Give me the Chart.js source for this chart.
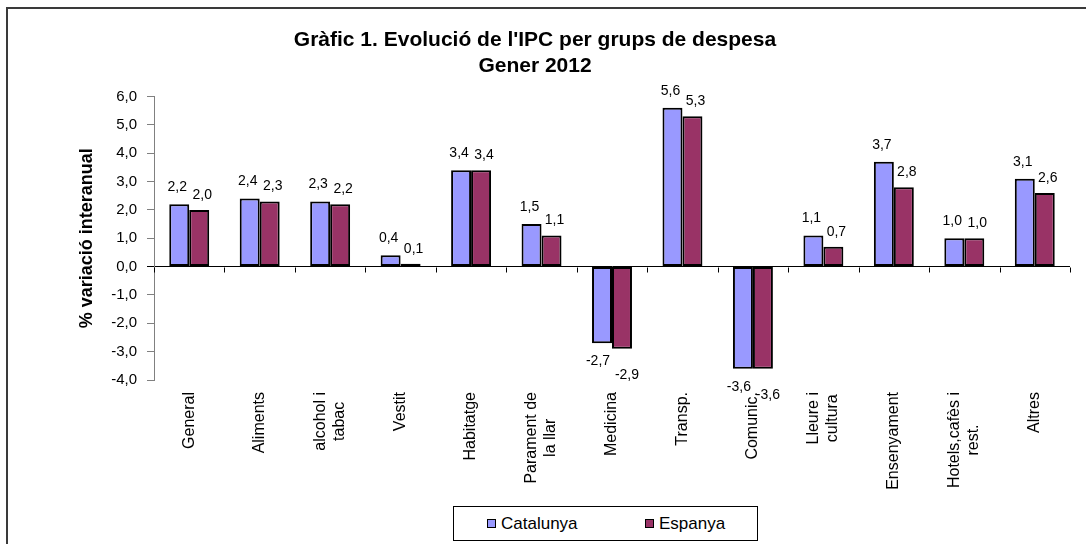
<!DOCTYPE html>
<html><head><meta charset="utf-8">
<script src="https://cdn.jsdelivr.net/npm/chart.js@4"></script>
<style>
html,body{margin:0;padding:0;overflow:hidden;background:#fff;width:1086px;height:544px}
#wrap{position:relative;width:1086px;height:544px;overflow:hidden}
#frame{position:absolute;left:6px;top:7px;width:1200px;height:700px;border:2px solid #3a3a3a;box-sizing:border-box}
#c{position:absolute;left:0;top:0}
#legend{position:absolute;left:453px;top:506px;width:305px;height:35px;border:1px solid #000;box-sizing:border-box;background:#fff;font:17px "Liberation Sans",Arial,sans-serif;color:#000}
.item{position:absolute;top:0;height:33px;display:flex;align-items:center;white-space:nowrap}
.sw{width:7px;height:7px;border:1.5px solid #000;margin-right:5px}
</style></head>
<body>
<div id="wrap">
<div id="frame"></div>
<canvas id="c" width="1086" height="544"></canvas>
<div id="legend"></div>
</div>
<script>
const categories = ['General','Aliments',['alcohol i','tabac'],'Vestit','Habitatge',['Parament de','la llar'],'Medicina','Transp.','Comunic.',['Lleure i','cultura'],'Ensenyament',['Hotels,cafès i','rest.'],'Altres'];
const catalunya = [2.2,2.4,2.3,0.4,3.4,1.5,-2.7,5.6,-3.6,1.1,3.7,1.0,3.1];
const espanya   = [2.0,2.3,2.2,0.1,3.4,1.1,-2.9,5.3,-3.6,0.7,2.8,1.0,2.6];
const seriesNames = ['Catalunya','Espanya'];
const seriesColors = ['#9999FF','#993366'];
const titleLines = ["Gràfic 1. Evolució de l'IPC per grups de despesa",'Gener 2012'];
const yTitle = '% variació interanual';
const yMin = -4, yMax = 6, yStep = 1;

const FONT = '"Liberation Sans", Arial, sans-serif';
const fmt = v => v.toFixed(1).replace('.', ',');
const LABEL_OFFSETS = [{px:-2,py:-17,nx:-4,ny:18},{px:3,py:-15,nx:5,ny:26}];

const valueLabels = {
  id:'valueLabels',
  afterDatasetsDraw(chart){
    const ctx = chart.ctx;
    ctx.save();
    ctx.font = '14px ' + FONT;
    ctx.fillStyle = '#000';
    ctx.textAlign = 'center';
    ctx.textBaseline = 'middle';
    chart.data.datasets.forEach((ds,i)=>{
      const meta = chart.getDatasetMeta(i);
      const off = LABEL_OFFSETS[i];
      meta.data.forEach((el,j)=>{
        const v = ds.data[j];
        const pos = v >= 0;
        ctx.fillText(fmt(v), el.x + (pos?off.px:off.nx), el.y + (pos?off.py:off.ny));
      });
    });
    ctx.restore();
  }
};

// tick marks of the category axis, drawn where it crosses zero
const zeroAxisTicks = {
  id:'zeroAxisTicks',
  afterDatasetsDraw(chart){
    const xs = chart.scales.x, ys = chart.scales.y;
    const n = chart.data.labels.length;
    const step = xs.getPixelForValue(1) - xs.getPixelForValue(0);
    const y0 = Math.round(ys.getPixelForValue(0)) + 0.5;
    const ctx = chart.ctx;
    ctx.save();
    ctx.strokeStyle = '#000';
    ctx.lineWidth = 1;
    ctx.beginPath();
    for (let i = 0; i <= n; i++) {
      const x = Math.round(xs.getPixelForValue(0) - step/2 + i*step) + 0.5;
      ctx.moveTo(x, y0);
      ctx.lineTo(x, y0 + 5);
    }
    ctx.stroke();
    ctx.restore();
  }
};

// category labels, rotated, lines centred on each other (as in the original)
const categoryLabels = {
  id:'categoryLabels',
  afterDraw(chart){
    const xs = chart.scales.x;
    const ctx = chart.ctx;
    const top = xs.top + 12;
    const lh = 19;
    ctx.save();
    ctx.font = '16px ' + FONT;
    ctx.fillStyle = '#000';
    ctx.textAlign = 'center';
    ctx.textBaseline = 'middle';
    chart.data.labels.forEach((lab, i)=>{
      const lines = Array.isArray(lab) ? lab : [lab];
      const maxW = Math.max(...lines.map(l => ctx.measureText(l).width));
      const x = xs.getPixelForValue(i);
      ctx.save();
      ctx.translate(x, top);
      ctx.rotate(-Math.PI/2);
      lines.forEach((l, k)=>{
        ctx.fillText(l, -maxW/2, (k - (lines.length-1)/2) * lh);
      });
      ctx.restore();
    });
    ctx.restore();
  }
};

const datasets = [catalunya, espanya].map((d,i)=>({
  label: seriesNames[i],
  data: d,
  backgroundColor: seriesColors[i],
  borderColor: '#000',
  borderWidth: 2,
  borderSkipped: false,
  categoryPercentage: 0.567,
  barPercentage: 1.0
}));

new Chart(document.getElementById('c'), {
  type: 'bar',
  data: { labels: categories, datasets },
  plugins: [valueLabels, zeroAxisTicks, categoryLabels],
  options: {
    responsive: false,
    animation: false,
    layout: { padding: { left: 0, right: 16, top: 0, bottom: 0 } },
    plugins: {
      legend: { display: false },
      tooltip: { enabled: false },
      title: {
        display: true,
        text: titleLines,
        color: '#000',
        font: { family: FONT, size: 21, weight: 'bold', lineHeight: 1.25 },
        padding: { top: 27, bottom: 17 }
      }
    },
    scales: {
      x: {
        type: 'category',
        position: 'bottom',
        offset: true,
        afterFit(scale){ scale.height = 164; },
        grid: { display: false, drawTicks: false },
        border: { display: false },
        ticks: { display: false, autoSkip: false, maxRotation: 90, minRotation: 90 }
      },
      y: {
        min: yMin, max: yMax,
        afterFit(scale){ scale.width = 154; },
        grid: { drawOnChartArea: true, drawTicks: true, tickLength: 7,
                color: c => (c.tick && c.tick.value === 0) ? '#000' : 'rgba(0,0,0,0)',
                tickColor: c => (c.tick && c.tick.value === 0) ? '#000' : '#808080' },
        border: { display: true, color: '#808080', width: 1 },
        ticks: { stepSize: yStep, padding: 10, color: '#000', font: { family: FONT, size: 15 }, callback: v => fmt(v) },
        title: { display: true, text: yTitle, color: '#000', font: { family: FONT, size: 18, weight: 'bold' }, padding: { top: 76, bottom: 0 } }
      }
    }
  }
});

const legend = document.getElementById('legend');
const legendLeft = [33, 191];
seriesNames.forEach((n,i)=>{
  const it = document.createElement('div');
  it.className = 'item';
  it.style.left = legendLeft[i] + 'px';
  const sw = document.createElement('span');
  sw.className = 'sw';
  sw.style.background = seriesColors[i];
  const tx = document.createElement('span');
  tx.textContent = n;
  it.appendChild(sw); it.appendChild(tx);
  legend.appendChild(it);
});
</script>
</body></html>
